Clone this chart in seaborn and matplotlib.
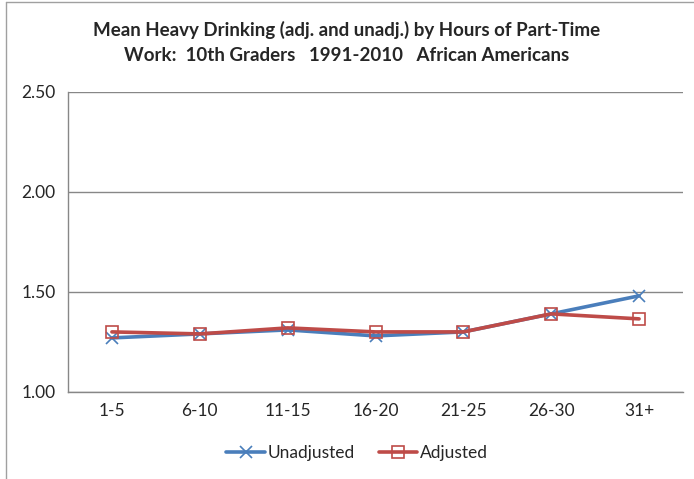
import matplotlib
matplotlib.use("Agg")
import matplotlib.pyplot as plt
from matplotlib.lines import Line2D
import pandas as pd
import seaborn as sns

# Hours of part-time work categories
hours = ['1-5', '6-10', '11-15', '16-20', '21-25', '26-30', '31+']
unadjusted = [1.27, 1.29, 1.31, 1.28, 1.30, 1.39, 1.48]
adjusted = [1.30, 1.29, 1.32, 1.30, 1.30, 1.39, 1.365]
y_ticks = [1.00, 1.50, 2.00, 2.50]
series = ['Unadjusted', 'Adjusted']

title = ('Mean Heavy Drinking (adj. and unadj.) by Hours of Part-Time\n'
         'Work:  10th Graders   1991-2010   African Americans')

blue = '#4A7EBB'
red = '#BE4B48'
grid_col = '#878787'
marker_of = {'Unadjusted': 'x', 'Adjusted': 's'}
color_of = {'Unadjusted': blue, 'Adjusted': red}

df = pd.DataFrame({
    'Hours': hours * 2,
    'Mean': unadjusted + adjusted,
    'Series': ['Unadjusted'] * len(hours) + ['Adjusted'] * len(hours),
})

sns.set_style('white')
plt.rcParams['font.family'] = ['Lato', 'DejaVu Sans']

fig = plt.figure(figsize=(6.94, 4.79), dpi=100)
ax = fig.add_axes([68 / 694, 1 - 392 / 479, 615 / 694, 300.5 / 479])

sns.lineplot(data=df, x='Hours', y='Mean', hue='Series', hue_order=series,
             palette=color_of, linewidth=2.6, sort=False, ax=ax)

# open markers in line colour
for line, name in zip(ax.lines, series):
    c = color_of[name]
    line.set_marker(marker_of[name])
    line.set_markersize(9)
    line.set_markeredgecolor(c)
    line.set_markerfacecolor('none')
    line.set_markeredgewidth(1.2)
    line.set_solid_capstyle('round')

ax.set_xlim(-0.5, len(hours) - 0.5)
ax.set_ylim(1.0, 2.5)
ax.set_yticks(y_ticks)
ax.set_yticklabels([f'{v:.2f}' for v in y_ticks], fontsize=12.5)
ax.set_xticks(range(len(hours)))
ax.set_xticklabels(hours, fontsize=12.5)
ax.set_xticks([i - 0.5 for i in range(len(hours) + 1)], minor=True)
ax.tick_params(axis='x', which='major', length=0, pad=8)
ax.tick_params(axis='x', which='minor', length=4, color=grid_col, width=1, direction='out')
ax.tick_params(axis='y', length=5, color=grid_col, width=1, direction='out', pad=4)
ax.set_xlabel('')
ax.set_ylabel('')

ax.yaxis.grid(True, color=grid_col, linewidth=1)
ax.set_axisbelow(True)
for side in ['top', 'right']:
    ax.spines[side].set_visible(False)
for side in ['left', 'bottom']:
    ax.spines[side].set_color(grid_col)
    ax.spines[side].set_linewidth(1)

fig.suptitle(title, x=0.5, y=1 - 21 / 479, fontsize=13.5, fontweight='bold',
             linespacing=1.55, va='top')

handles = [
    Line2D([], [], color=color_of[n], linewidth=2.6, marker=marker_of[n], markersize=9,
           markeredgecolor=color_of[n], markerfacecolor='none', markeredgewidth=1.2)
    for n in series
]
if ax.get_legend() is not None:
    ax.get_legend().remove()
fig.legend(handles, series, loc='center',
           bbox_to_anchor=(357 / 694, 1 - 453 / 479), ncol=2, frameon=False,
           fontsize=12.5, handlelength=2.2, handletextpad=0.15, columnspacing=1.4)

# chart border lines (left and top edges of the chart area)
fig.add_artist(Line2D([6 / 694, 6 / 694], [0, 1 - 1.5 / 479], color='#A0A0A0', linewidth=1))
fig.add_artist(Line2D([6 / 694, 1], [1 - 1.5 / 479, 1 - 1.5 / 479], color='#A0A0A0', linewidth=1))

fig.savefig('out.png', dpi=100)
